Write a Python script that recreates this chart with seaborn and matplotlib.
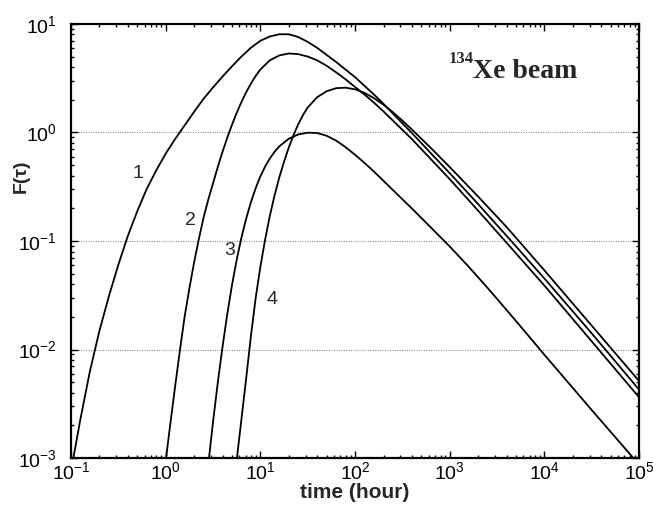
import numpy as np
import pandas as pd
import matplotlib
matplotlib.use('Agg')
import matplotlib.pyplot as plt
import seaborn as sns
from matplotlib.ticker import LogLocator, NullFormatter

# ----- values: time (hour) and F(tau) -----
c1_t = [0.106, 0.1259, 0.1585, 0.1995, 0.2512, 0.3162, 0.3981, 0.5012, 0.6310, 0.7943,
        1.0, 1.259, 1.585, 1.995, 2.512, 3.162, 3.981, 5.012, 6.310, 7.943,
        10, 12.59, 15.85, 19.95, 25.12, 31.62, 39.81, 50.12, 63.10, 79.43,
        100, 125.9, 158.5, 199.5, 251.2, 316.2, 398.1, 631, 1000, 1995,
        4467, 10000, 31620, 100000]
c1_F = [0.001, 0.00229, 0.00631, 0.0148, 0.0309, 0.0603, 0.111, 0.188, 0.302, 0.447,
        0.638, 0.871, 1.161, 1.549, 2.042, 2.60, 3.27, 4.07, 5.01, 6.03,
        7.0, 7.67, 8.04, 8.04, 7.59, 6.84, 6.03, 5.19, 4.47, 3.80,
        3.24, 2.69, 2.24, 1.84, 1.496, 1.216, 0.989, 0.646, 0.422, 0.219,
        0.1, 0.0452, 0.0141, 0.00427]

c2_t = [1.01, 1.122, 1.259, 1.413, 1.585, 1.778, 1.995, 2.239, 2.512, 2.818,
        3.162, 3.548, 3.981, 4.467, 5.012, 5.623, 6.310, 7.079, 7.943, 8.913,
        10, 12.59, 15.85, 19.95, 25.12, 31.62, 39.81, 50.12, 63.10, 79.43,
        100, 125.9, 158.5, 199.5, 251.2, 316.2, 398.1, 631, 1000, 1995,
        3981, 10000, 31620, 100000]
c2_F = [0.001, 0.00209, 0.00457, 0.00977, 0.01995, 0.0363, 0.0631, 0.1035, 0.164, 0.240,
        0.339, 0.479, 0.661, 0.891, 1.175, 1.514, 1.905, 2.344, 2.818, 3.311,
        3.802, 4.624, 5.129, 5.346, 5.272, 5.012, 4.624, 4.121, 3.589, 3.090,
        2.630, 2.239, 1.884, 1.567, 1.288, 1.059, 0.871, 0.569, 0.372, 0.1905,
        0.0966, 0.0389, 0.0119, 0.00363]

c3_t = [2.87, 3.162, 3.548, 3.981, 4.467, 5.012, 5.623, 6.310, 7.079, 7.943,
        8.913, 10, 11.22, 12.59, 14.13, 15.85, 19.95, 25.12, 31.62, 39.81,
        50.12, 63.10, 79.43, 100, 125.9, 158.5, 199.5, 251.2, 316.2, 398.1,
        631, 1000, 1585, 2512, 3981, 6310, 10000, 31620, 87100, 100000]
c3_F = [0.001, 0.00214, 0.0049, 0.01047, 0.0209, 0.0389, 0.0668, 0.1072, 0.1603, 0.2265,
        0.3055, 0.3936, 0.4842, 0.5754, 0.6637, 0.7447, 0.8750, 0.9594, 0.9954, 0.9886,
        0.9333, 0.8414, 0.7328, 0.6237, 0.5248, 0.4365, 0.3589, 0.2951, 0.2427, 0.1995,
        0.1334, 0.0891, 0.0580, 0.0370, 0.0232, 0.01445, 0.00895, 0.00277, 0.001, 0.00087]

c4_t = [5.66, 6.310, 7.079, 7.943, 8.913, 10, 11.22, 12.59, 14.13, 15.85,
        17.78, 19.95, 22.39, 25.12, 28.18, 31.62, 39.81, 50.12, 63.10, 79.43,
        100, 125.9, 158.5, 199.5, 251.2, 316.2, 398.1, 631, 1000, 1995,
        3981, 10000, 31620, 100000]
c4_F = [0.001, 0.00226, 0.00537, 0.01318, 0.0295, 0.0575, 0.1023, 0.1698, 0.2630, 0.3846,
        0.5370, 0.7244, 0.9441, 1.189, 1.445, 1.698, 2.113, 2.399, 2.559, 2.588,
        2.500, 2.317, 2.075, 1.807, 1.538, 1.288, 1.067, 0.7211, 0.4808, 0.2570,
        0.1349, 0.0537, 0.0166, 0.00513]

curve_names = ['1', '2', '3', '4']
label_t = [0.51, 1.81, 4.79, 13.2]
label_F = [0.42, 0.156, 0.0826, 0.0286]

x_ticks = [1e-1, 1e0, 1e1, 1e2, 1e3, 1e4, 1e5]
y_ticks = [1e-3, 1e-2, 1e-1, 1e0, 1e1]

frames = []
for name, t, F in zip(curve_names, [c1_t, c2_t, c3_t, c4_t], [c1_F, c2_F, c3_F, c4_F]):
    frames.append(pd.DataFrame({'time': t, 'F': F, 'curve': name}))
df = pd.concat(frames, ignore_index=True)

sns.set_style('ticks')
plt.rcParams['font.family'] = ['Liberation Sans', 'DejaVu Sans']
plt.rcParams['mathtext.fontset'] = 'custom'
plt.rcParams['mathtext.rm'] = 'Liberation Sans'
plt.rcParams['mathtext.it'] = 'Liberation Sans:italic'

fig = plt.figure(figsize=(6.53, 5.08), dpi=100)
ax = fig.add_axes([0.1087, 0.0984, 0.8699, 0.8544])

for name in curve_names:
    sub = df[df['curve'] == name]
    sns.lineplot(data=sub, x='time', y='F', color='black', lw=1.3, ax=ax,
                 estimator=None, sort=False)

ax.set_xscale('log')
ax.set_yscale('log')
ax.set_xlim(0.1, 1e5)
ax.set_ylim(1e-3, 10)

ax.set_xticks(x_ticks)
ax.set_yticks(y_ticks)
ax.yaxis.set_minor_locator(LogLocator(base=10, subs=np.arange(2, 10), numticks=20))
ax.yaxis.set_minor_formatter(NullFormatter())
ax.xaxis.set_minor_locator(LogLocator(base=10, subs=np.arange(2, 10), numticks=20))
ax.xaxis.set_minor_formatter(NullFormatter())

ax.tick_params(which='both', direction='in', top=True, right=True, colors='black',
               width=1.0)
ax.tick_params(which='major', length=5)
ax.tick_params(which='minor', length=2.5)
ax.tick_params(axis='y', which='major', labelsize=14, pad=10)
ax.tick_params(axis='x', which='major', labelsize=14, pad=2)

for edge in ['bottom', 'top', 'left', 'right']:
    ax.spines[edge].set_color('black')
    ax.spines[edge].set_linewidth(1.6)

ax.yaxis.grid(True, which='major', linestyle=(0, (1, 1.5)), color='#777777', lw=0.7)
ax.xaxis.grid(False)

ax.set_xlabel('time (hour)', fontsize=15, fontweight='bold', labelpad=0)
ax.set_ylabel('F(τ)', fontsize=14, fontweight='bold')
ax.yaxis.set_label_coords(-0.072, 0.65)

for name, lt, lf in zip(curve_names, label_t, label_F):
    ax.text(lt, lf, name, fontsize=14, ha='center', va='center')

ax.text(0.664, 0.910, '134', transform=ax.transAxes, fontsize=12,
        fontweight='bold', family='Liberation Serif', ha='left', va='baseline')
ax.text(0.708, 0.876, 'Xe beam', transform=ax.transAxes, fontsize=20,
        fontweight='bold', family='Liberation Serif', ha='left', va='baseline')

fig.savefig('out.png', dpi=100)
